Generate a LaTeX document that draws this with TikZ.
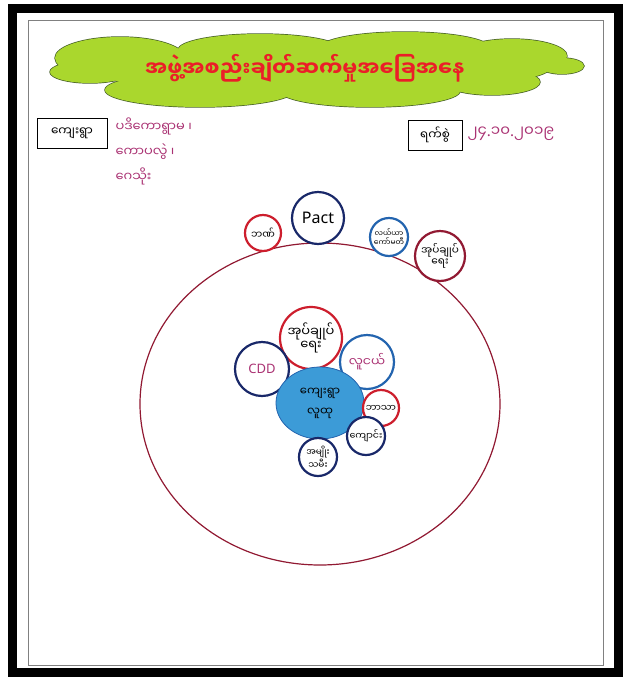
\documentclass[tikz,border=0pt]{standalone}
\usepackage{fontspec}
\setmainfont{Noto Sans}
\newfontfamily\latinfont{Noto Sans}
\newfontfamily\mmfont[Script=Myanmar]{Noto Sans Myanmar UI}
\usetikzlibrary{shapes.geometric,positioning}
\definecolor{ringRed}{RGB}{205,30,45}
\definecolor{ringMaroon}{RGB}{145,25,50}
\definecolor{ringNavy}{RGB}{25,40,105}
\definecolor{ringBlue}{RGB}{35,100,175}
\definecolor{poolBlue}{RGB}{60,155,215}
\definecolor{inkPink}{RGB}{170,50,115}
\definecolor{cloudGreen}{RGB}{170,215,45}
\definecolor{cloudEdge}{RGB}{70,95,40}
\definecolor{titleRed}{RGB}{235,30,40}
\newcommand{\mmsize}[1]{\mmfont\fontsize{#1}{#1}\selectfont}
\newcommand{\dt}{{\latinfont .}}

\begin{document}
\begin{tikzpicture}[x=1pt,y=-1pt,
    ring/.style={circle,draw,line width=2.2pt,fill=white,inner sep=0pt,align=center,font=\mmsize{10}},
    redring/.style={ring,draw=ringRed},
    maroonring/.style={ring,draw=ringMaroon},
    navyring/.style={ring,draw=ringNavy},
    bluering/.style={ring,draw=ringBlue},
    labelbox/.style={draw,line width=0.8pt,minimum width=70,minimum height=30,inner sep=2pt,font=\mmsize{12}},
    handtext/.style={text=inkPink,align=left,font=\mmfont\fontsize{13}{25}\selectfont},
    puff/.style={fill=cloudGreen}
  ]
    \useasboundingbox (0,0) rectangle (630,681);
    % page frame
    \fill[white] (0,0) rectangle (630,681);
    \draw[line width=9pt] (12,8) rectangle (618,672);
    \draw[gray,line width=0.6pt] (28,20) rectangle (603,665);
    % title cloud: outlined puffs, then filled again to hide inner lines
    \foreach \cx/\cy/\rx/\ry in {120/58/65/21, 260/50/82/16, 405/48/85/16, 512/56/55/17,
        90/72/40/11, 562/66/22/8, 200/90/95/17, 370/91/90/16, 492/82/48/13, 315/68/235/24}
      \draw[puff,draw=cloudEdge,line width=1.4pt] (\cx,\cy) ellipse [x radius=\rx,y radius=\ry];
    \foreach \cx/\cy/\rx/\ry in {120/58/65/21, 260/50/82/16, 405/48/85/16, 512/56/55/17,
        90/72/40/11, 562/66/22/8, 200/90/95/17, 370/91/90/16, 492/82/48/13, 315/68/235/24}
      \fill[puff] (\cx,\cy) ellipse [x radius=\rx,y radius=\ry];
    \node[text=titleRed,font=\mmsize{21}\bfseries] (title) at (305,68) {အဖွဲ့အစည်းချိတ်ဆက်မှုအခြေအနေ};
    % village and date
    \node[labelbox] (village) at (72,133) {ကျေးရွာ};
    \node[handtext,anchor=north west] (names) at (112,114) {ပဒိကောရွာမ ၊\\ကောပလွဲ ၊\\ဂေသိုး};
    \node[labelbox,minimum width=54] (date) at (435,135) {ရက်စွဲ};
    \node[handtext,anchor=west,font=\mmsize{15}] (dateval) at (464,134) {၂၄\dt၁၀\dt၂၀၁၉};
    % outer field
    \coordinate (field) at (320,404);
    \draw[ringMaroon,line width=1.2pt] (field) ellipse [x radius=180,y radius=161];
    % organisations outside the village
    \node[redring,minimum size=36,font=\mmsize{10}] (bank) at (263,233) {ဘဏ်};
    \node[navyring,minimum size=52,font=\latinfont\fontsize{16}{16}\selectfont] (pact) at (318,218) {Pact};
    \node[bluering,minimum size=38,font=\mmsize{7.5}] (farm) at (389,237) {လယ်ယာ\\ကော်မတီ};
    \node[maroonring,minimum size=50,font=\mmsize{10.5}] (admin) at (440,256) {အုပ်ချုပ်\\ရေး};
    % organisations inside the village
    \node[redring,minimum size=62,font=\mmsize{13}] (vadmin) at (311,338) {အုပ်ချုပ်\\ရေး};
    \node[navyring,minimum size=54,text=inkPink,font=\latinfont\fontsize{13}{13}\selectfont] (cdd) at (262,369) {CDD};
    \node[bluering,minimum size=54,text=inkPink,font=\mmsize{12.5}] (youth) at (367,362) {လူငယ်};
    \node[ellipse,fill=poolBlue,draw=ringBlue,line width=0.8pt,minimum width=88,minimum height=72,
      align=center,font=\mmfont\fontsize{11.5}{20}\selectfont] (people) at (320,403) {ကျေးရွာ\\လူထု};
    \node[redring,minimum size=36,font=\mmsize{9.5}] (faith) at (381,408) {ဘာသာ};
    \node[navyring,minimum size=38,font=\mmsize{9.5}] (school) at (366,436) {ကျောင်း};
    \node[navyring,minimum size=38,font=\mmsize{9}] (women) at (318,457) {အမျိုး\\သမီး};
  \end{tikzpicture}
\end{document}
